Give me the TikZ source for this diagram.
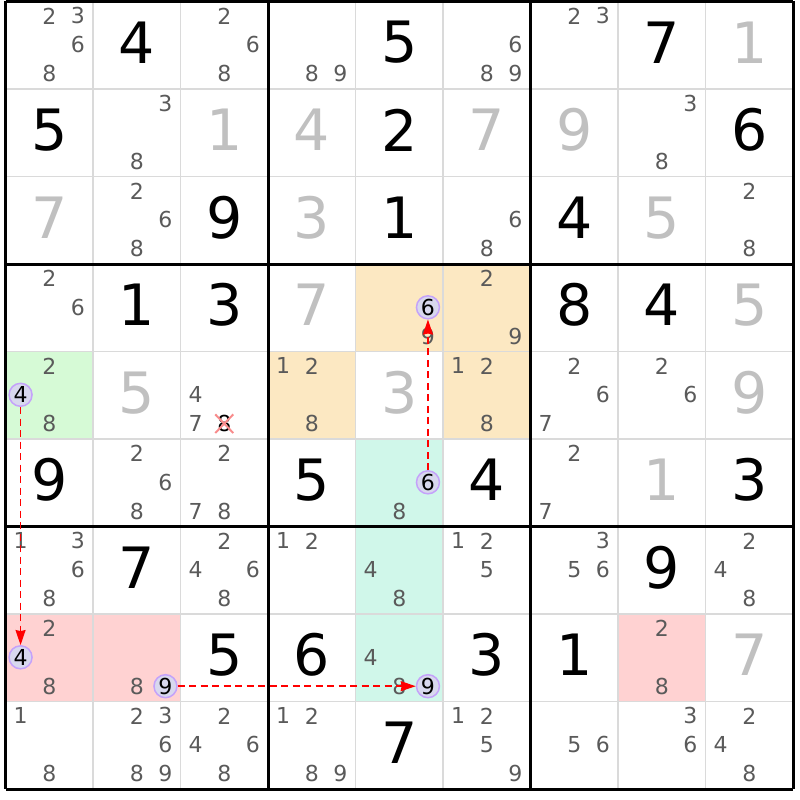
\documentclass[tikz,border=0pt]{standalone}
\usepackage{fontspec}
\setmainfont{DejaVu Sans}
\usepackage{tikz}
\usetikzlibrary{arrows.meta}
\usetikzlibrary{shapes.misc}
\definecolor{candgray}{RGB}{90,90,90}
\definecolor{solvedgray}{RGB}{192,192,192}
\definecolor{thingray}{RGB}{218,218,218}
\definecolor{orangebg}{RGB}{252,232,194}
\definecolor{greenbg}{RGB}{214,250,214}
\definecolor{tealbg}{RGB}{208,247,234}
\definecolor{redbg}{RGB}{255,210,210}
\definecolor{ringfill}{RGB}{216,216,238}
\definecolor{ringline}{RGB}{196,162,250}
\definecolor{chainred}{RGB}{255,0,0}
\definecolor{crossred}{RGB}{248,140,140}

\begin{document}
\begin{tikzpicture}[%
  >={Stealth[length=15pt,width=10pt,inset=1pt]},
  x=87.5pt, y=-87.5pt,
  thin/.style={thingray, line width=1.6pt},
  box/.style={black, line width=3pt},
  given/.style={inner sep=0pt, text=black, font=\fontsize{57}{57}\selectfont},
  solved/.style={given, text=solvedgray},
  cand/.style={inner sep=0pt, text=candgray, font=\fontsize{22}{22}\selectfont},
  ring/.style={cand, circle, text=black, draw=ringline, fill=ringfill,
    line width=1.5pt, minimum size=23pt},
  struck/.style={cand, cross out, text=black, draw=crossred, line width=2pt,
    minimum width=16pt, minimum height=16pt},
  chain/.style={chainred, line width=1.4pt, dash pattern=on 7pt off 4.5pt},
]

  \useasboundingbox (-0.0629,-0.0171) rectangle (9.0800,9.1257);

  \fill[orangebg] (4,3) rectangle (6,4);
  \fill[orangebg] (3,4) rectangle (4,5);
  \fill[orangebg] (5,4) rectangle (6,5);
  \fill[greenbg] (0,4) rectangle (1,5);
  \fill[tealbg] (4,5) rectangle (5,8);
  \fill[redbg] (0,7) rectangle (2,8);
  \fill[redbg] (7,7) rectangle (8,8);

  \foreach \i in {1,2,4,5,7,8}
    \draw[thin] (\i,0) -- (\i,9) (0,\i) -- (9,\i);

  \foreach \r/\c/\d in {1/2/4, 1/5/5, 1/8/7, 2/1/5, 2/5/2, 2/9/6, 3/3/9, 3/5/1,
    3/7/4, 4/2/1, 4/3/3, 4/7/8, 4/8/4, 6/1/9, 6/4/5, 6/6/4, 6/9/3, 7/2/7,
    7/8/9, 8/3/5, 8/4/6, 8/6/3, 8/7/1, 9/5/7}
    \node[given] (g\r\c) at ({\c-0.5},{\r-0.53}) {\d};

  \foreach \r/\c/\d in {1/9/1, 2/3/1, 2/4/4, 2/6/7, 2/7/9, 3/1/7, 3/4/3, 3/8/5,
    4/4/7, 4/9/5, 5/2/5, 5/5/3, 5/9/9, 6/8/1, 8/9/7}
    \node[solved] (s\r\c) at ({\c-0.5},{\r-0.53}) {\d};

  \foreach \r/\c/\ds in {1/1/{2,3,6,8}, 1/3/{2,6,8}, 1/4/{8,9}, 1/6/{6,8,9},
    1/7/{2,3}, 2/2/{3,8}, 2/8/{3,8}, 3/2/{2,6,8}, 3/6/{6,8}, 3/9/{2,8},
    4/1/{2,6}, 4/5/{9}, 4/6/{2,9}, 5/1/{2,8}, 5/3/{4,7}, 5/4/{1,2,8},
    5/6/{1,2,8}, 5/7/{2,6,7}, 5/8/{2,6}, 6/2/{2,6,8}, 6/3/{2,7,8}, 6/5/{8},
    6/7/{2,7}, 7/1/{1,3,6,8}, 7/3/{2,4,6,8}, 7/4/{1,2}, 7/5/{4,8},
    7/6/{1,2,5}, 7/7/{3,5,6}, 7/9/{2,4,8}, 8/1/{2,8}, 8/2/{8}, 8/5/{4,8},
    8/8/{2,8}, 9/1/{1,8}, 9/2/{2,3,6,8,9}, 9/3/{2,4,6,8}, 9/4/{1,2,8,9},
    9/6/{1,2,5,9}, 9/7/{5,6}, 9/8/{3,6}, 9/9/{2,4,8}}
    \foreach \d in \ds
      \node[cand] (k\r\c\d) at ({\c-0.5+0.328*(mod(\d-1,3)-1)},
        {\r-0.505+0.33*(floor((\d-1)/3)-1)}) {\d};

  \foreach \i in {0,3,6,9}
    \draw[box] (\i,0) -- (\i,9) (0,\i) -- (9,\i);

  \node[struck] (x538) at (2.5,4.825) {8};

  \node[ring] (r4c5d6) at (4.828,3.495) {6};
  \node[ring] (r6c5d6) at (4.828,5.495) {6};
  \node[ring] (r5c1d4) at (0.172,4.495) {4};
  \node[ring] (r8c1d4) at (0.172,7.495) {4};
  \node[ring] (r8c2d9) at (1.828,7.825) {9};
  \node[ring] (r8c5d9) at (4.828,7.825) {9};

  \draw[chain,->] (r5c1d4) -- (r8c1d4);
  \draw[chain,->] (r8c2d9) -- (r8c5d9);
  \draw[chain,->] (r6c5d6) -- (r4c5d6);

\end{tikzpicture}
\end{document}
